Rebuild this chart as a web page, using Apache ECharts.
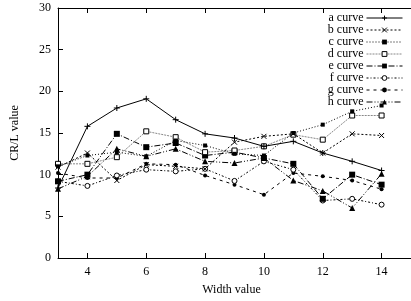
<!DOCTYPE html>
<html>
<head>
<meta charset="utf-8">
<script src="https://cdn.jsdelivr.net/npm/echarts@6/dist/echarts.min.js"></script>
<style>html,body{margin:0;padding:0;background:#fff}#c{width:411px;height:301px}</style>
</head>
<body>
<div id="c"></div>
<script>
const xs = [3, 4, 5, 6, 7, 8, 9, 10, 11, 12, 13, 14];
const xTicks = [4, 6, 8, 10, 12, 14];
const seriesNames = ['a curve', 'b curve', 'c curve', 'd curve', 'e curve', 'f curve', 'g curve', 'h curve'];
const aVals = [8.4, 15.8, 18.0, 19.1, 16.6, 14.9, 14.4, 13.4, 14.0, 12.6, 11.6, 10.5];
const bVals = [10.9, 12.6, 9.3, 11.2, 11.0, 10.7, 13.9, 14.6, 14.9, 12.6, 14.9, 14.7];
const cVals = [11.0, 12.3, 12.7, 12.2, 14.1, 13.5, 12.5, 12.3, 15.0, 16.0, 17.6, 18.3];
const dVals = [11.3, 11.3, 12.1, 15.2, 14.5, 12.7, 12.9, 13.4, 14.8, 14.2, 17.1, 17.1];
const eVals = [9.2, 10.0, 14.9, 13.3, 13.8, 12.3, 12.7, 12.0, 11.3, 7.1, 10.0, 8.8];
const fVals = [9.2, 8.65, 9.9, 10.6, 10.4, 10.7, 9.25, 11.6, 10.6, 6.9, 7.1, 6.4];
const gVals = [10.2, 9.6, 9.6, 11.3, 11.2, 9.9, 8.8, 7.6, 10.2, 9.8, 9.3, 8.25];
const hVals = [8.3, 9.8, 13.1, 12.2, 13.1, 11.6, 11.4, 12.0, 9.3, 8.05, 6.0, 10.1];
const allVals = [aVals, bVals, cVals, dVals, eVals, fVals, gVals, hVals];

const FONT = 'Liberation Serif';
const styles = [
  {symbol: 'path://M0,5L10,5M5,0L5,10', size: 6, color: '#000', fill: '#000', dash: 'solid', bw: 1, open: true},
  {symbol: 'path://M0,0L10,10M10,0L0,10', size: 5, color: '#000', fill: '#000', dash: [2, 2], bw: 1, open: true},
  {symbol: 'rect', size: 4, color: '#000', fill: '#000', dash: [1, 2], bw: 0},
  {symbol: 'rect', size: 5, color: '#888', fill: '#fff', dash: [2, 1], bw: 1, border: '#000', open: true},
  {symbol: 'rect', size: 6, color: '#000', fill: '#000', dash: [6, 2, 1, 2], bw: 0},
  {symbol: 'circle', size: 5, color: '#000', fill: '#fff', dash: [2, 2, 1, 2], bw: 1, border: '#000', open: true},
  {symbol: 'circle', size: 4, color: '#000', fill: '#000', dash: [3, 4], bw: 0},
  {symbol: 'triangle', size: 6, color: '#000', fill: '#000', dash: [6, 2, 1, 2, 1, 2], bw: 0}
];

const series = seriesNames.map((name, i) => {
  const s = styles[i];
  return {
    name: name,
    type: 'line',
    data: xs.map((x, j) => [x, allVals[i][j]]),
    symbol: s.symbol,
    symbolSize: s.size,
    showAllSymbol: true,
    lineStyle: {color: s.color, width: 1, type: s.dash},
    itemStyle: {color: s.fill, borderColor: s.border || '#000', borderWidth: s.bw},
    emphasis: {disabled: true},
    z: 10 - i
  };
});

const legendData = seriesNames.map((name, i) => {
  const s = styles[i];
  return {
    name: name,
    itemStyle: {color: s.fill, borderColor: '#000', borderWidth: s.open ? 1 : 0}
  };
});

const chart = echarts.init(document.getElementById('c'), null, {renderer: 'canvas'});
chart.setOption({
  animation: false,
  backgroundColor: '#fff',
  grid: {left: 58, top: 8, right: -5, bottom: 41, containLabel: false},
  legend: {
    orient: 'vertical',
    right: 8,
    top: 12,
    align: 'right',
    itemWidth: 36,
    itemHeight: 6,
    itemGap: 0,
    padding: 0,
    lineStyle: {width: 1},
    textStyle: {fontFamily: FONT, fontSize: 12, lineHeight: 12, color: '#000', padding: [0, -2, 0, 0]},
    data: legendData
  },
  xAxis: [{
    type: 'value', min: 3, max: 15,
    name: 'Width value', nameLocation: 'middle', nameGap: 26,
    nameTextStyle: {fontFamily: FONT, fontSize: 12, color: '#000', padding: [0, 6, 0, 0]},
    axisLine: {show: true, lineStyle: {color: '#000', width: 1}},
    axisTick: {show: true, inside: true, length: 5, customValues: xTicks, lineStyle: {color: '#000'}},
    axisLabel: {customValues: xTicks, fontFamily: FONT, fontSize: 12, color: '#000', margin: 8},
    splitLine: {show: false}
  }, {
    type: 'value', min: 3, max: 15, position: 'top',
    axisLine: {show: true, lineStyle: {color: '#000', width: 1}},
    axisTick: {show: true, inside: true, length: 5, customValues: xTicks, lineStyle: {color: '#000'}},
    axisLabel: {show: false},
    splitLine: {show: false}
  }],
  yAxis: {
    type: 'value', min: 0, max: 30, interval: 5,
    name: 'CR/L value', nameLocation: 'middle', nameGap: 37,
    nameTextStyle: {fontFamily: FONT, fontSize: 12, color: '#000'},
    axisLine: {show: true, lineStyle: {color: '#000', width: 1}},
    axisTick: {show: true, inside: true, length: 5, lineStyle: {color: '#000'}},
    axisLabel: {fontFamily: FONT, fontSize: 12, color: '#000', margin: 7},
    splitLine: {show: false}
  },
  series: series
});
</script>
</body>
</html>
